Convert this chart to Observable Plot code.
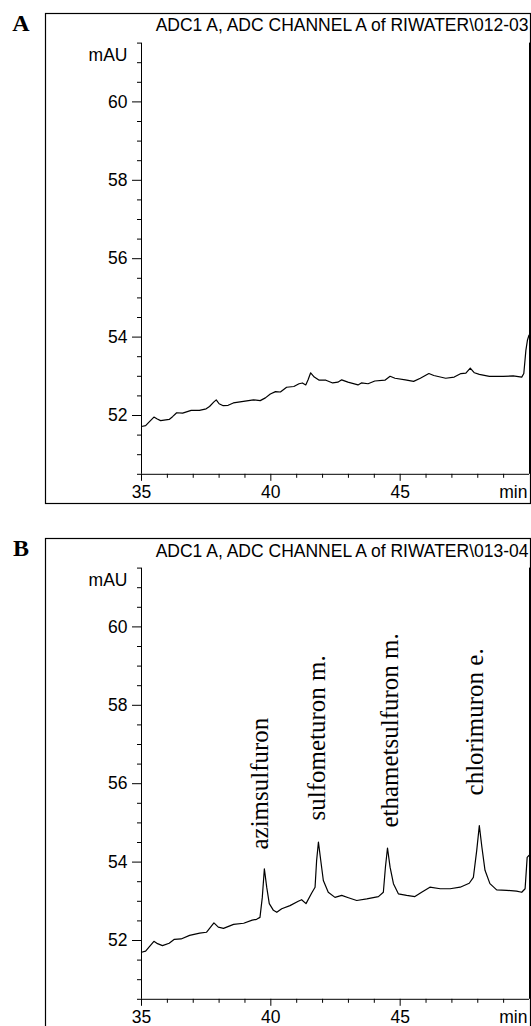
<!DOCTYPE html>
<html><head><meta charset="utf-8">
<script src="https://cdn.jsdelivr.net/npm/d3@7"></script>
<script src="https://cdn.jsdelivr.net/npm/@observablehq/plot@0.6"></script>
<style>
html,body{margin:0;padding:0;background:#fff;}
#wrap{width:531px;height:1026px;overflow:hidden;position:relative;}
#wrap svg{display:block;}
</style></head><body><div id="wrap"></div>
<script>
const panelLetters = ["A", "B"];
const panelTitles = ["ADC1 A, ADC CHANNEL A of RIWATER\\012-03", "ADC1 A, ADC CHANNEL A of RIWATER\\013-04"];
const xUnit = "min";
const yUnit = "mAU";
const xDomain = [35, 50];
const yDomain = [50.5, 61.5];
const xMajorTicks = [35, 40, 45];
const xMinorTicks = [36, 37, 38, 39, 41, 42, 43, 44, 46, 47, 48, 49];
const yMajorTicks = [52, 54, 56, 58, 60];
const yMinorTicks = [50.5, 51, 51.5, 52.5, 53, 53.5, 54.5, 55, 55.5, 56.5, 57, 57.5, 58.5, 59, 59.5, 60.5, 61, 61.5];

const traceA_time = [35, 35.16, 35.29, 35.48, 35.61, 35.74, 36.07, 36.2, 36.36, 36.59, 36.92, 37.24, 37.5, 37.63, 37.79, 37.89, 38.0, 38.16, 38.35, 38.55, 38.94, 39.33, 39.59, 39.79, 39.98, 40.18, 40.37, 40.61, 40.89, 41.09, 41.22, 41.35, 41.44, 41.54, 41.68, 41.87, 42.13, 42.39, 42.59, 42.74, 42.98, 43.37, 43.5, 43.76, 44.02, 44.41, 44.61, 44.8, 45.2, 45.52, 45.78, 46.11, 46.3, 46.76, 47.09, 47.35, 47.54, 47.71, 47.87, 48.06, 48.45, 48.98, 49.37, 49.7, 49.78, 49.86, 49.92, 49.98];
const traceA_mAU = [51.72, 51.74, 51.83, 51.96, 51.91, 51.87, 51.90, 51.97, 52.07, 52.06, 52.13, 52.13, 52.17, 52.23, 52.34, 52.40, 52.30, 52.25, 52.26, 52.32, 52.36, 52.40, 52.38, 52.45, 52.55, 52.61, 52.60, 52.72, 52.74, 52.81, 52.83, 52.78, 52.91, 53.09, 52.98, 52.90, 52.90, 52.83, 52.85, 52.91, 52.85, 52.78, 52.83, 52.81, 52.88, 52.90, 53.0, 52.95, 52.91, 52.87, 52.95, 53.07, 53.02, 52.95, 52.98, 53.07, 53.08, 53.21, 53.09, 53.05, 53.0, 53.0, 53.01, 52.98, 53.07, 53.66, 53.92, 54.05];

const traceB_time = [35, 35.16, 35.29, 35.48, 35.62, 35.81, 36.07, 36.27, 36.53, 36.86, 37.25, 37.51, 37.67, 37.80, 37.97, 38.17, 38.56, 38.95, 39.28, 39.45, 39.58, 39.67, 39.75, 39.84, 39.94, 40.10, 40.23, 40.42, 40.74, 41.06, 41.19, 41.36, 41.58, 41.71, 41.77, 41.84, 41.93, 42.03, 42.22, 42.48, 42.74, 43.0, 43.32, 43.71, 44.16, 44.35, 44.43, 44.51, 44.61, 44.74, 44.93, 45.25, 45.57, 45.83, 46.15, 46.55, 46.93, 47.32, 47.67, 47.83, 47.96, 48.06, 48.16, 48.28, 48.47, 48.73, 49.12, 49.5, 49.70, 49.83, 49.91, 49.98];
const traceB_mAU = [51.70, 51.73, 51.83, 51.98, 51.92, 51.87, 51.93, 52.03, 52.04, 52.13, 52.19, 52.21, 52.34, 52.45, 52.34, 52.31, 52.41, 52.44, 52.52, 52.54, 52.59, 53.10, 53.83, 53.36, 52.94, 52.77, 52.72, 52.81, 52.89, 53.0, 53.04, 52.94, 53.21, 53.36, 54.04, 54.51, 54.04, 53.53, 53.23, 53.10, 53.15, 53.09, 53.02, 53.06, 53.12, 53.23, 53.87, 54.36, 53.87, 53.45, 53.19, 53.15, 53.12, 53.23, 53.36, 53.32, 53.32, 53.36, 53.46, 53.61, 54.30, 54.93, 54.38, 53.79, 53.45, 53.29, 53.28, 53.26, 53.23, 53.32, 54.12, 54.17];

const peakNames = ["azimsulfuron", "sulfometuron m.", "ethametsulfuron m.", "chlorimuron e."];
const peakLabelTime = [39.58, 41.79, 44.61, 47.90];
const peakLabelMAU = [54.32, 55.06, 54.88, 55.70];

const sans = "'Liberation Sans', Arial, Helvetica, sans-serif";
const serif = "'Liberation Serif', 'Times New Roman', serif";

function panel(i, time, mau, labels) {
  const data = time.map((t, k) => ({t, v: mau[k]}));
  const marks = [
    Plot.frame({stroke: "#000", strokeWidth: 1.2, insetLeft: -96, insetTop: -29.6, insetBottom: -29.2, insetRight: -1}),
    Plot.ruleY([yDomain[0]], {stroke: "#000", strokeWidth: 1}),
    Plot.ruleX([xDomain[0]], {stroke: "#000", strokeWidth: 1}),
    Plot.ruleX([xDomain[1]], {stroke: "#000", strokeWidth: 1}),
    Plot.axisX({ticks: xMinorTicks, tickSize: 4, tickFormat: () => "", stroke: "#000"}),
    Plot.axisX({ticks: xMajorTicks, tickSize: 7, tickPadding: 4.5, tickFormat: d => String(d), stroke: "#000", fill: "#000"}),
    Plot.axisY({ticks: yMinorTicks, tickSize: 4, tickFormat: () => "", stroke: "#000"}),
    Plot.axisY({ticks: yMajorTicks, tickSize: 9, tickPadding: 5, tickFormat: d => String(d), stroke: "#000", fill: "#000"}),
    Plot.line(data, {x: "t", y: "v", stroke: "#000", strokeWidth: 1.2}),
    Plot.text([yUnit], {text: d => d, frameAnchor: "top-left", textAnchor: "end", lineAnchor: "middle", dx: -14, dy: 12, fill: "#000"}),
    Plot.text([xUnit], {text: d => d, frameAnchor: "bottom-right", textAnchor: "end", lineAnchor: "top", dx: -2, dy: 11.5, fill: "#000"}),
    Plot.text([panelTitles[i]], {text: d => d, frameAnchor: "top-right", textAnchor: "end", lineAnchor: "bottom", dx: -1, dy: -11.6, fill: "#000"}),
    Plot.text([panelLetters[i]], {text: d => d, frameAnchor: "top-left", textAnchor: "middle", lineAnchor: "bottom", dx: -120.5, dy: -12, fontFamily: serif, fontWeight: "bold", fontSize: 24, fill: "#000"})
  ];
  if (labels) {
    const ld = labels.names.map((n, k) => ({n, t: labels.time[k], v: labels.mau[k]}));
    marks.push(Plot.text(ld, {x: "t", y: "v", text: "n", rotate: -90, textAnchor: "start", lineAnchor: "middle", fontFamily: serif, fontSize: 25, fill: "#000"}));
  }
  return Plot.plot({
    width: 531,
    height: 525,
    marginLeft: 141,
    marginRight: 2,
    marginTop: 42.6,
    marginBottom: 51.2,
    style: {fontFamily: sans, fontSize: "17.5px", color: "#000", background: "#fff", overflow: "visible"},
    x: {domain: xDomain, label: null},
    y: {domain: yDomain, label: null},
    marks
  });
}

const wrap = document.getElementById("wrap");
wrap.appendChild(panel(0, traceA_time, traceA_mAU, null));
wrap.appendChild(panel(1, traceB_time, traceB_mAU, {names: peakNames, time: peakLabelTime, mau: peakLabelMAU}));
</script></body></html>
